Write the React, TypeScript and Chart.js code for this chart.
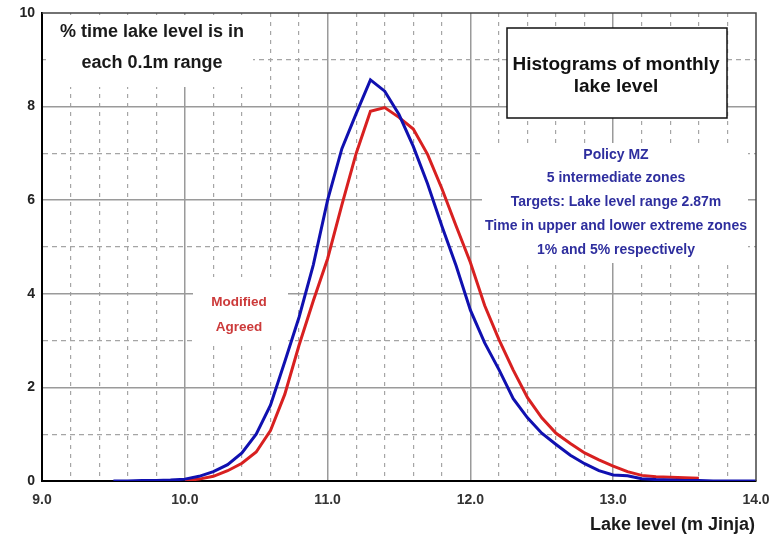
import React, { useEffect, useRef } from "react";
import { Chart, registerables } from "chart.js";

Chart.register(...registerables);

// Lake level (m Jinja), 0.1 m bins
const lakeLevels = [
  9.5, 9.6, 9.7, 9.8, 9.9, 10.0, 10.1, 10.2, 10.3, 10.4, 10.5, 10.6, 10.7, 10.8, 10.9,
  11.0, 11.1, 11.2, 11.3, 11.4, 11.5, 11.6, 11.7, 11.8, 11.9, 12.0, 12.1, 12.2, 12.3,
  12.4, 12.5, 12.6, 12.7, 12.8, 12.9, 13.0, 13.1, 13.2, 13.3, 13.4, 13.5, 13.6, 13.7,
  13.8, 13.9, 14.0,
];

// % time, Policy MZ (blue)
const policyMZ = [
  0.0, 0.0, 0.01, 0.01, 0.02, 0.04, 0.1, 0.2, 0.35, 0.6, 1.0, 1.62, 2.55, 3.5, 4.62,
  6.0, 7.1, 7.85, 8.57, 8.33, 7.83, 7.15, 6.35, 5.45, 4.6, 3.65, 2.95, 2.38, 1.76,
  1.35, 1.02, 0.78, 0.55, 0.37, 0.22, 0.13, 0.11, 0.05, 0.03, 0.02, 0.01, 0.01, 0.0,
  0.0, 0.0, 0.0,
];

// % time, Modified Agreed (red)
const modifiedAgreed = [
  null, null, null, null, null, 0.01, 0.04, 0.1, 0.22, 0.38, 0.62, 1.08, 1.85, 2.9, 3.85,
  4.75, 5.9, 7.0, 7.9, 7.98, 7.77, 7.52, 6.98, 6.25, 5.45, 4.67, 3.75, 3.02, 2.37,
  1.78, 1.35, 1.02, 0.8, 0.6, 0.45, 0.32, 0.2, 0.12, 0.09, 0.08, 0.07, 0.06, null,
  null, null, null,
];

const xTickLabels = ["9.0", "10.0", "11.0", "12.0", "13.0", "14.0"];
const yTickLabels = ["0", "2", "4", "6", "8", "10"];

const titleLines = ["Histograms of monthly", "lake level"];
const yNoteLines = ["% time lake level is in", "each 0.1m range"];
const policyLines = [
  "Policy MZ",
  "5 intermediate zones",
  "Targets: Lake level range 2.87m",
  "Time in upper and lower extreme zones",
  "1% and 5% respectively",
];
const modifiedLines = ["Modified", "Agreed"];
const xAxisTitle = "Lake level (m Jinja)";

const FONT = "'Liberation Sans', Arial, sans-serif";

const isInt = (v: number) => Math.abs(v - Math.round(v)) < 1e-6;
const isEven = (v: number) => isInt(v) && Math.round(v) % 2 === 0;

const annotations = {
  id: "annotations",
  beforeDatasetsDraw(chart: any) {
    const ctx = chart.ctx as CanvasRenderingContext2D;
    ctx.save();
    ctx.fillStyle = "#ffffff";
    // white backgrounds of the text blocks
    ctx.fillRect(46, 15, 207, 72);
    ctx.fillRect(193, 277, 95, 68);
    ctx.fillRect(482, 143, 266, 120);
    // title box
    ctx.fillRect(507, 28, 220, 90);
    ctx.strokeStyle = "#111";
    ctx.lineWidth = 1.5;
    ctx.strokeRect(507, 28, 220, 90);

    ctx.textAlign = "center";
    ctx.textBaseline = "middle";

    ctx.fillStyle = "#1a1a1a";
    ctx.font = `bold 18px ${FONT}`;
    ctx.fillText(yNoteLines[0], 152, 32);
    ctx.fillText(yNoteLines[1], 152, 63);

    ctx.font = `bold 19px ${FONT}`;
    ctx.fillStyle = "#111";
    ctx.fillText(titleLines[0], 616, 65);
    ctx.fillText(titleLines[1], 616, 87);

    ctx.font = `bold 14px ${FONT}`;
    ctx.fillStyle = "#2e2e9e";
    const py = [155, 178, 202, 226, 250];
    policyLines.forEach((t, i) => ctx.fillText(t, 616, py[i]));

    ctx.font = `bold 13.5px ${FONT}`;
    ctx.fillStyle = "#cc3a3a";
    ctx.fillText(modifiedLines[0], 239, 302);
    ctx.fillText(modifiedLines[1], 239, 327);
    ctx.restore();
  },
  afterDraw(chart: any) {
    const ctx = chart.ctx as CanvasRenderingContext2D;
    const a = chart.chartArea;
    ctx.save();
    ctx.strokeStyle = "#444";
    ctx.lineWidth = 1.5;
    ctx.beginPath();
    ctx.moveTo(a.left, a.top);
    ctx.lineTo(a.right, a.top);
    ctx.lineTo(a.right, a.bottom);
    ctx.stroke();
    ctx.fillStyle = "#1a1a1a";
    ctx.font = `bold 18px ${FONT}`;
    ctx.textAlign = "right";
    ctx.textBaseline = "middle";
    ctx.fillText(xAxisTitle, 755, 525);
    ctx.restore();
  },
};

export default function App() {
  const ref = useRef<HTMLCanvasElement | null>(null);

  useEffect(() => {
    if (!ref.current) return;
    const blueData = lakeLevels.map((x, i) => ({ x, y: policyMZ[i] }));
    const redData = lakeLevels
      .map((x, i) => ({ x, y: modifiedAgreed[i] }))
      .filter((p) => p.y !== null);

    const chart = new Chart(ref.current, {
      type: "line",
      data: {
        datasets: [
          {
            label: "Policy MZ",
            data: blueData as any,
            borderColor: "#1010b0",
            borderWidth: 3,
            pointRadius: 0,
            tension: 0,
            fill: false,
          },
          {
            label: "Modified Agreed",
            data: redData as any,
            borderColor: "#d82020",
            borderWidth: 3,
            pointRadius: 0,
            tension: 0,
            fill: false,
          },
        ],
      },
      options: {
        responsive: false,
        animation: false,
        events: [],
        layout: { padding: { left: 0, top: 13, right: 17, bottom: 0 } },
        plugins: {
          legend: { display: false },
          tooltip: { enabled: false },
          title: { display: false },
        },
        scales: {
          x: {
            type: "linear",
            min: 9,
            max: 14,
            afterFit: (s: any) => {
              s.height = 58;
              s.paddingLeft = 0;
              s.paddingRight = 0;
            },
            afterBuildTicks: (s: any) => {
              const t = [];
              for (let k = 0; k <= 25; k++) t.push({ value: 9 + k * 0.2 });
              s.ticks = t;
            },
            ticks: {
              autoSkip: false,
              maxRotation: 0,
              padding: 11,
              color: "#333",
              font: { family: FONT, size: 14, weight: "bold" },
              callback: (v: any) => {
                const n = Number(v);
                if (!isInt(n)) return "";
                return xTickLabels[Math.round(n) - 9];
              },
            },
            grid: {
              drawTicks: false,
              color: (c: any) => {
                const v = c.tick ? c.tick.value : 0;
                if (v <= 9.001 || v >= 13.999) return "rgba(0,0,0,0)";
                return isInt(v) ? "#9a9a9a" : "#a5a5a5";
              },
              lineWidth: (c: any) => {
                const v = c.tick ? c.tick.value : 0;
                return isInt(v) ? 1.5 : 1.2;
              },
            },
            border: {
              display: true,
              color: "#000",
              width: 2,
              dash: (c: any) => {
                if (!c.tick) return [];
                return isInt(c.tick.value) ? [] : [4, 5];
              },
            },
          },
          y: {
            type: "linear",
            min: 0,
            max: 10,
            afterFit: (s: any) => {
              s.width = 42;
              s.paddingTop = 0;
              s.paddingBottom = 0;
            },
            ticks: {
              stepSize: 1,
              autoSkip: false,
              padding: 7,
              color: "#222",
              font: { family: FONT, size: 14, weight: "bold" },
              callback: (v: any) => {
                const n = Number(v);
                if (!isEven(n)) return "";
                return yTickLabels[Math.round(n) / 2];
              },
            },
            grid: {
              drawTicks: false,
              color: (c: any) => {
                const v = c.tick ? c.tick.value : 0;
                if (v <= 0.001 || v >= 9.999) return "rgba(0,0,0,0)";
                return isEven(v) ? "#9a9a9a" : "#a5a5a5";
              },
              lineWidth: (c: any) => {
                const v = c.tick ? c.tick.value : 0;
                return isEven(v) ? 1.5 : 1.2;
              },
            },
            border: {
              display: true,
              color: "#000",
              width: 2,
              dash: (c: any) => {
                if (!c.tick) return [];
                return isEven(c.tick.value) ? [] : [5, 4];
              },
            },
          },
        },
      },
      plugins: [annotations],
    });
    return () => chart.destroy();
  }, []);

  return (
    <div style={{ position: "fixed", left: 0, top: 0, width: 773, height: 539, background: "#fff" }}>
      <canvas ref={ref} width={773} height={539} style={{ display: "block" }} />
    </div>
  );
}
